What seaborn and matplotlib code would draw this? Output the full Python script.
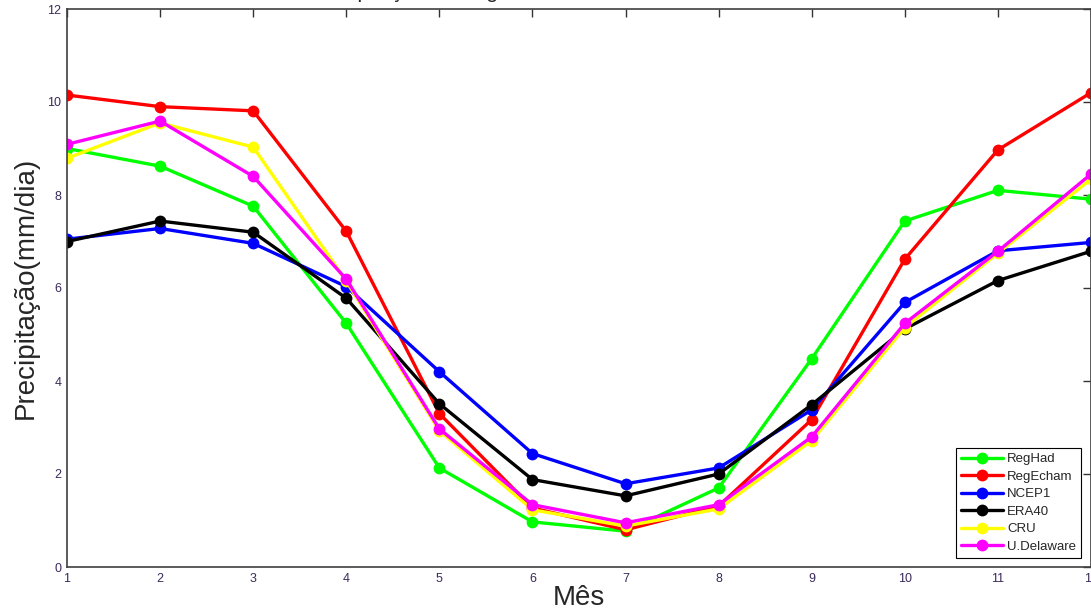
import pandas as pd
import matplotlib
matplotlib.use('Agg')
import matplotlib.pyplot as plt
import seaborn as sns

meses = list(range(1, 13))
series = ['RegHad', 'RegEcham', 'NCEP1', 'ERA40', 'CRU', 'U.Delaware']
cores = ['#00ff00', '#ff0000', '#0000ff', '#000000', '#ffff00', '#ff00ff']

reghad = [9.0, 8.62, 7.76, 5.24, 2.13, 0.97, 0.77, 1.7, 4.48, 7.44, 8.1, 7.91]
regecham = [10.15, 9.9, 9.81, 7.22, 3.3, 1.27, 0.8, 1.31, 3.17, 6.62, 8.97, 10.2]
ncep1 = [7.05, 7.28, 6.96, 6.03, 4.2, 2.44, 1.79, 2.13, 3.38, 5.69, 6.8, 6.98]
era40 = [7.0, 7.44, 7.2, 5.78, 3.51, 1.88, 1.53, 2.0, 3.49, 5.12, 6.16, 6.79]
cru = [8.79, 9.55, 9.03, 6.15, 2.93, 1.23, 0.88, 1.25, 2.72, 5.15, 6.75, 8.34]
delaware = [9.09, 9.59, 8.4, 6.19, 2.97, 1.34, 0.95, 1.34, 2.8, 5.24, 6.79, 8.45]

valores = [reghad, regecham, ncep1, era40, cru, delaware]
df = pd.DataFrame({
    'Mês': meses * len(series),
    'Precipitação': sum(valores, []),
    'Serie': [s for s in series for _ in meses],
})

sns.set_theme(style='white')
plt.rcParams['font.family'] = ['Liberation Sans', 'DejaVu Sans']

fig = plt.figure(figsize=(10.91, 6.14), dpi=100)
ax = fig.add_axes([67 / 1091, 1 - 567 / 614, 1 - 67 / 1091, (567 - 9) / 614])

sns.lineplot(data=df, x='Mês', y='Precipitação', hue='Serie', hue_order=series,
             palette=cores, marker='o', markersize=8.5, markeredgewidth=0,
             linewidth=2.4, ax=ax)

ax.set_xlim(1, 12)
ax.set_ylim(0, 12)
ax.set_xticks(meses)
ax.set_yticks(range(0, 13, 2))
ax.tick_params(direction='in', length=6, width=1, top=True, right=True,
               labelsize=9, labelcolor='#3a2a5a', color='#333333', pad=4)
for sp in ax.spines.values():
    sp.set_color('#404040')
    sp.set_linewidth(1.2)

ax.set_xlabel('Mês', fontsize=20, labelpad=0)
ax.set_ylabel('Precipitação(mm/dia)', fontsize=20, labelpad=6)

leg = ax.legend(loc='lower right', bbox_to_anchor=(0.997, 0.004), fontsize=9.5,
                frameon=True, fancybox=False, edgecolor='black', framealpha=1,
                handlelength=3.2, borderpad=0.4, labelspacing=0.4, handletextpad=0.3)
leg.get_frame().set_linewidth(0.8)

fig.text(310 / 1091, 1.004, 'Precipitação na Região', fontsize=15,
         ha='left', va='baseline')

fig.savefig('out.png', dpi=100)
